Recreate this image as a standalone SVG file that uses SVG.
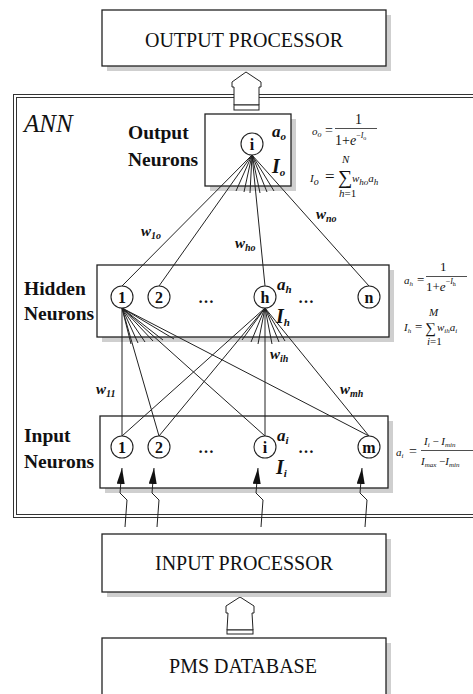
<svg xmlns="http://www.w3.org/2000/svg" width="473" height="694" viewBox="0 0 473 694">
<style>
.box{fill:#fff;stroke:#222;stroke-width:1.3}
.shadow{fill:#cfcfcf}
.t{font-family:"Liberation Serif",serif;fill:#111}
.lbl{font-family:"Liberation Serif",serif;font-size:20px;fill:#111}
.bold{font-family:"Liberation Serif",serif;font-weight:bold;font-size:19.5px;fill:#111}
.node{fill:#fff;stroke:#222;stroke-width:1.1}
.nt{font-family:"Liberation Serif",serif;font-weight:bold;font-size:16px;fill:#111;text-anchor:middle}
.it{font-family:"Liberation Serif",serif;font-style:italic;font-weight:bold;fill:#111}
.f{font-family:"Liberation Serif",serif;font-style:italic;fill:#111;font-size:11px}
.c{stroke:#222;stroke-width:1;fill:none}
.arr{fill:#fff;stroke:#222;stroke-width:1}
</style>
<defs>
<marker id="ah" viewBox="0 0 16 8" refX="16" refY="4" markerWidth="16" markerHeight="8" orient="auto" markerUnits="userSpaceOnUse">
<path d="M0,0 L16,4 L0,8 z" fill="#111"/>
</marker>
</defs>

<!-- Output processor -->
<g id="output-processor">
<rect class="shadow" x="107" y="15" width="284" height="56"/>
<rect class="box" x="102" y="10" width="284" height="56"/>
<text class="lbl" x="244" y="47" text-anchor="middle">OUTPUT PROCESSOR</text>
</g>

<!-- ANN frame -->
<g id="ann-frame">
<rect x="13.5" y="94.5" width="480" height="423" fill="none" stroke="#333" stroke-width="1"/>
<rect x="16.5" y="97.5" width="480" height="417" fill="none" stroke="#333" stroke-width="1"/>
<text class="t" x="24" y="132" font-size="25" font-style="italic">ANN</text>
</g>

<!-- Output neurons layer -->
<g id="output-layer">
<rect class="shadow" x="210" y="119" width="86" height="72"/>
<rect class="box" x="205" y="114" width="86" height="72"/>
<text class="bold" x="128" y="139">Output</text>
<text class="bold" x="128" y="166">Neurons</text>
<text class="it" x="272" y="137" font-size="17">a<tspan font-size="11" dy="3">o</tspan></text>
<text class="it" x="272" y="173" font-size="20">I<tspan font-size="11" dy="3">o</tspan></text>
</g>

<!-- Hidden layer -->
<g id="hidden-layer">
<rect class="shadow" x="102" y="270" width="292" height="72"/>
<rect class="box" x="97" y="265" width="292" height="72"/>
<text class="bold" x="24" y="295">Hidden</text>
<text class="bold" x="24" y="320">Neurons</text>
<text class="nt" x="206" y="303" font-size="18">…</text>
<text class="nt" x="306" y="303" font-size="18">…</text>
<text class="it" x="277" y="290" font-size="17">a<tspan font-size="11" dy="3">h</tspan></text>
<text class="it" x="276" y="323" font-size="20">I<tspan font-size="11" dy="3">h</tspan></text>
</g>

<!-- Input layer -->
<g id="input-layer">
<rect class="shadow" x="105" y="421" width="288" height="72"/>
<rect class="box" x="100" y="416" width="288" height="72"/>
<text class="bold" x="24" y="442">Input</text>
<text class="bold" x="24" y="468">Neurons</text>
<text class="nt" x="206" y="453" font-size="18">…</text>
<text class="nt" x="306" y="453" font-size="18">…</text>
<text class="it" x="277" y="441" font-size="17">a<tspan font-size="11" dy="3">i</tspan></text>
<text class="it" x="276" y="474" font-size="20">I<tspan font-size="11" dy="3">i</tspan></text>
</g>

<!-- Connectors -->
<g id="connectors">
<!-- output to hidden -->
<line class="c" x1="252" y1="155" x2="122" y2="286"/>
<line class="c" x1="252" y1="155" x2="159" y2="286"/>
<line class="c" x1="252" y1="155" x2="265" y2="286"/>
<line class="c" x1="252" y1="155" x2="369" y2="286"/>
<line class="c" x1="252" y1="155" x2="236" y2="191"/>
<line class="c" x1="252" y1="155" x2="244" y2="192"/>
<line class="c" x1="252" y1="155" x2="250" y2="193"/>
<line class="c" x1="252" y1="155" x2="260" y2="193"/>
<line class="c" x1="252" y1="155" x2="267" y2="192"/>
<line class="c" x1="252" y1="155" x2="274" y2="191"/>
<!-- hidden 1 to input -->
<line class="c" x1="122" y1="308" x2="122" y2="436"/>
<line class="c" x1="122" y1="308" x2="159" y2="436"/>
<line class="c" x1="122" y1="308" x2="265" y2="436"/>
<line class="c" x1="122" y1="308" x2="369" y2="436"/>
<line class="c" x1="122" y1="308" x2="131" y2="344"/>
<line class="c" x1="122" y1="308" x2="138" y2="343"/>
<line class="c" x1="122" y1="308" x2="145" y2="342"/>
<line class="c" x1="122" y1="308" x2="153" y2="341"/>
<line class="c" x1="122" y1="308" x2="163" y2="340"/>
<line class="c" x1="122" y1="308" x2="174" y2="339"/>
<!-- hidden h to input -->
<line class="c" x1="265" y1="308" x2="122" y2="436"/>
<line class="c" x1="265" y1="308" x2="159" y2="436"/>
<line class="c" x1="265" y1="308" x2="265" y2="436"/>
<line class="c" x1="265" y1="308" x2="369" y2="436"/>
<line class="c" x1="265" y1="308" x2="242" y2="340"/>
<line class="c" x1="265" y1="308" x2="251" y2="342"/>
<line class="c" x1="265" y1="308" x2="258" y2="344"/>
<line class="c" x1="265" y1="308" x2="272" y2="344"/>
<line class="c" x1="265" y1="308" x2="279" y2="342"/>
<line class="c" x1="265" y1="308" x2="285" y2="341"/>
<!-- input arrows -->
<polyline class="c" stroke-width="1.3" marker-end="url(#ah)" points="125,527 127,500 120,493 122,468"/>
<polyline class="c" stroke-width="1.3" marker-end="url(#ah)" points="157,527 159,500 152,493 154,468"/>
<polyline class="c" stroke-width="1.3" marker-end="url(#ah)" points="261,527 263,500 256,493 258,468"/>
<polyline class="c" stroke-width="1.3" marker-end="url(#ah)" points="365,527 367,500 360,493 362,468"/>
<!-- hollow arrows -->
<polygon class="arr" points="246,72 261,82 261,87 259,87 259,105 234,105 234,87 232,87 232,82"/>
<rect class="arr" x="234" y="105" width="25" height="5"/>
<polygon class="arr" points="240,597 254,606 254,613 252,613 253,630 227,630 228,613 226,613 226,606"/>
<rect class="arr" x="227" y="630" width="26" height="4"/>
</g>

<!-- Neuron nodes -->
<g id="node-out-i"><circle class="node" cx="252" cy="144" r="11"/><text class="nt" x="252" y="150">i</text></g>
<g id="node-h-1"><circle class="node" cx="122" cy="297" r="11"/><text class="nt" x="122" y="303">1</text></g>
<g id="node-h-2"><circle class="node" cx="159" cy="297" r="11"/><text class="nt" x="159" y="303">2</text></g>
<g id="node-h-h"><circle class="node" cx="265" cy="297" r="11"/><text class="nt" x="265" y="303">h</text></g>
<g id="node-h-n"><circle class="node" cx="369" cy="297" r="11"/><text class="nt" x="369" y="303">n</text></g>
<g id="node-i-1"><circle class="node" cx="122" cy="447" r="11"/><text class="nt" x="122" y="453">1</text></g>
<g id="node-i-2"><circle class="node" cx="159" cy="447" r="11"/><text class="nt" x="159" y="453">2</text></g>
<g id="node-i-i"><circle class="node" cx="265" cy="447" r="11"/><text class="nt" x="265" y="453">i</text></g>
<g id="node-i-m"><circle class="node" cx="369" cy="447" r="11"/><text class="nt" x="369" y="453">m</text></g>

<!-- Weight labels -->
<g id="weights">
<text class="it" x="141" y="236" font-size="15">w<tspan font-size="10" dy="3">1o</tspan></text>
<text class="it" x="235" y="248" font-size="15">w<tspan font-size="10" dy="3">ho</tspan></text>
<text class="it" x="316" y="219" font-size="15">w<tspan font-size="10" dy="3">no</tspan></text>
<text class="it" x="270" y="359" font-size="15">w<tspan font-size="10" dy="3">ih</tspan></text>
<text class="it" x="96" y="394" font-size="15">w<tspan font-size="10" dy="3">11</tspan></text>
<text class="it" x="340" y="394" font-size="15">w<tspan font-size="10" dy="3">mh</tspan></text>
</g>

<!-- Formulas -->
<g id="formulas">
<text class="f" x="312" y="135" font-size="14">o<tspan font-size="8" dy="2">o</tspan></text>
<text class="t" x="325" y="135" font-size="14">=</text>
<text class="t" x="355" y="124" font-size="14">1</text>
<line x1="335" y1="128.5" x2="377" y2="128.5" stroke="#222" stroke-width="0.8"/>
<text class="t" x="335" y="145" font-size="14">1+<tspan font-style="italic">e</tspan><tspan font-size="8" dy="-7">−<tspan font-style="italic">I</tspan></tspan><tspan font-size="6" dy="2">o</tspan></text>

<text class="f" x="310" y="182" font-size="20">I<tspan font-size="10" dy="3">o</tspan></text>
<text class="t" x="325" y="182" font-size="17">=</text>
<text class="t" x="338" y="184" font-size="20">∑</text>
<text class="f" x="342" y="163" font-size="9">N</text>
<text class="f" x="339" y="197" font-size="9">h<tspan font-style="normal">=1</tspan></text>
<text class="f" x="352" y="182" font-size="17">w<tspan font-size="9" dy="3">ho</tspan><tspan dy="-3">a</tspan><tspan font-size="9" dy="3">h</tspan></text>

<text class="f" x="404" y="284" font-size="13">a<tspan font-size="7" dy="2">h</tspan></text>
<text class="t" x="417" y="284" font-size="13">=</text>
<text class="t" x="440" y="271" font-size="13">1</text>
<line x1="426" y1="276.5" x2="467" y2="276.5" stroke="#222" stroke-width="0.8"/>
<text class="t" x="426" y="291" font-size="13">1+<tspan font-style="italic">e</tspan><tspan font-size="8" dy="-7">−<tspan font-style="italic">I</tspan></tspan><tspan font-size="6" dy="2">h</tspan></text>

<text class="f" x="404" y="331" font-size="14">I<tspan font-size="7" dy="2">h</tspan></text>
<text class="t" x="415" y="331" font-size="13">=</text>
<text class="t" x="425" y="333" font-size="15">∑</text>
<text class="f" x="429" y="316" font-size="8">M</text>
<text class="f" x="427" y="345" font-size="8">i<tspan font-style="normal">=1</tspan></text>
<text class="f" x="437" y="331" font-size="12">w<tspan font-size="7" dy="2">ih</tspan><tspan dy="-2">a</tspan><tspan font-size="7" dy="2">i</tspan></text>

<text class="f" x="396" y="456" font-size="14">a<tspan font-size="7" dy="2">i</tspan></text>
<text class="t" x="409" y="456" font-size="14">=</text>
<text class="f" x="424" y="445" font-size="14">I<tspan font-size="7" dy="2">i</tspan><tspan font-style="normal" dy="-2"> −</tspan> I<tspan font-size="7" dy="2">min</tspan></text>
<line x1="421" y1="450.5" x2="473" y2="450.5" stroke="#222" stroke-width="0.8"/>
<text class="f" x="421" y="465" font-size="14">I<tspan font-size="7" dy="2">max</tspan><tspan font-style="normal" dy="-2"> −</tspan>I<tspan font-size="7" dy="2">min</tspan></text>
</g>

<!-- Input processor -->
<g id="input-processor">
<rect class="shadow" x="107" y="539" width="284" height="58"/>
<rect class="box" x="102" y="534" width="284" height="58"/>
<text class="lbl" x="244" y="570" text-anchor="middle">INPUT PROCESSOR</text>
</g>

<!-- PMS database -->
<g id="pms-database">
<rect class="shadow" x="107" y="643" width="284" height="60"/>
<rect class="box" x="102" y="638" width="284" height="60"/>
<text class="lbl" x="243" y="673" text-anchor="middle">PMS DATABASE</text>
</g>
</svg>
